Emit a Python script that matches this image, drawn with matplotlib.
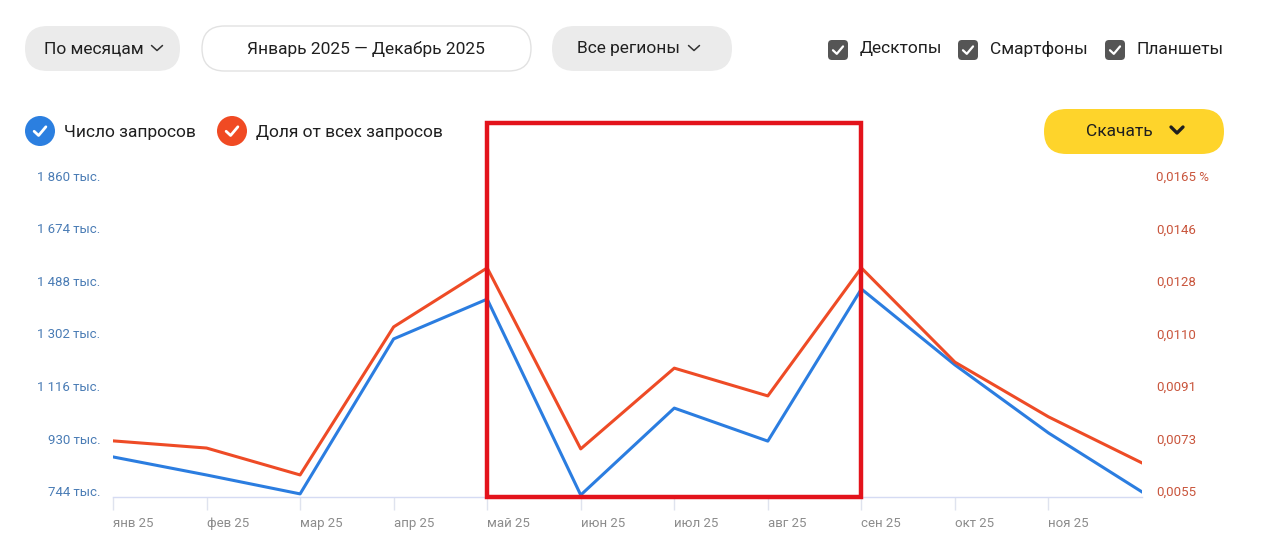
import numpy as np
import matplotlib
matplotlib.use('Agg')
import matplotlib.pyplot as plt
from matplotlib.patches import FancyBboxPatch, Circle, Rectangle
from matplotlib.lines import Line2D
from matplotlib.transforms import Affine2D, ScaledTranslation, blended_transform_factory

plt.rcParams['font.family'] = ['Roboto', 'DejaVu Sans']

# Data
months = ['янв 25', 'фев 25', 'мар 25', 'апр 25', 'май 25', 'июн 25',
          'июл 25', 'авг 25', 'сен 25', 'окт 25', 'ноя 25', 'дек 25']
queries = [886, 822, 755, 1304, 1445, 751, 1059, 942, 1481, 1212, 971, 762]  # тыс.
share = [0.00746, 0.00721, 0.00627, 0.01144, 0.0135, 0.00718,
         0.0100, 0.00903, 0.0135, 0.01021, 0.0083, 0.00669]  # %
left_ticks = [744, 930, 1116, 1302, 1488, 1674, 1860]
right_ticks = np.linspace(0.0055, 0.0165, 7)
right_labels = ['0,0055', '0,0073', '0,0091', '0,0110', '0,0128', '0,0146', '0,0165 %']
highlight = ('май 25', 'сен 25')

W, H = 1280, 558
fig = plt.figure(figsize=(W / 100, H / 100), dpi=100)
# screen pixel coords, y pointing down
px = Affine2D().scale(1 / W, -1 / H).translate(0, 1) + fig.transFigure

BLUE = '#2b7de0'
RED = '#ee4b26'

# ---- chart ----
ax = fig.add_axes([113 / W, 1 - 497 / H, 1029 / W, 315 / H])
x = np.arange(len(months))
ax.plot(x, queries, color=BLUE, lw=2.2)
ax2 = ax.twinx()
ax2.plot(x, share, color=RED, lw=2.2)

ax.set_xlim(0, 11)
ax.set_ylim(744, 1860)
ax2.set_ylim(0.0055, 0.0165)

for a in (ax, ax2):
    for s in a.spines.values():
        s.set_visible(False)
ax.spines['bottom'].set_visible(True)
ax.spines['bottom'].set_color('#d5dbf3')
ax.spines['bottom'].set_linewidth(1)

ax.set_xticks(x[:11])
ax.set_xticklabels(months[:11], color='#8c8c8c', fontsize=9.5, ha='left')
ax.tick_params(axis='x', length=9.5, width=1, color='#dfe3ee', pad=5)

up = ScaledTranslation(0, 0.06, fig.dpi_scale_trans)
ax.set_yticks(left_ticks)
ax.set_yticklabels([f'{v:,}'.replace(',', ' ') + ' тыс.' for v in left_ticks],
                   color='#4a7cb5', fontsize=9.5)
ax.tick_params(axis='y', length=0, pad=9)
ax2.set_yticks(right_ticks)
ax2.set_yticklabels(right_labels, color='#c9553c', fontsize=9.5)
ax2.tick_params(axis='y', length=0, pad=10)
for lab in ax.get_yticklabels() + ax2.get_yticklabels():
    lab.set_transform(lab.get_transform() + up)

# red highlight frame
i0, i1 = months.index(highlight[0]), months.index(highlight[1])
bt = blended_transform_factory(ax2.transData, ax2.transAxes)
ax2.add_artist(Rectangle((i0, 0), i1 - i0, 1 + 374 / 315 - 1, transform=bt,
                         fill=False, edgecolor='#e3131b', lw=3.2, clip_on=False, zorder=10))


# ---- UI controls ----
def pill(x0, y0, x1, y1, face, edge='none'):
    r = (y1 - y0) / 2
    fig.add_artist(FancyBboxPatch((x0, y0), x1 - x0, y1 - y0,
                                  boxstyle=f'round,pad=0,rounding_size={r}',
                                  transform=px, facecolor=face, edgecolor=edge, lw=1))


def chevron(cx, cy, w, h, lw, color='#333333'):
    fig.add_artist(Line2D([cx - w, cx, cx + w], [cy - h / 2, cy + h / 2, cy - h / 2],
                          transform=px, color=color, lw=lw,
                          solid_capstyle='round', solid_joinstyle='round'))


def check(cx, cy, s, lw=1.6, color='white'):
    fig.add_artist(Line2D([cx - 0.42 * s, cx - 0.1 * s, cx + 0.42 * s],
                          [cy + 0.02 * s, cy + 0.32 * s, cy - 0.3 * s],
                          transform=px, color=color, lw=lw,
                          solid_capstyle='round', solid_joinstyle='round'))


def label(xp, yp, s, size=12.5, ha='left', color='#1f1f1f'):
    fig.text(xp, yp, s, transform=px, fontsize=size, ha=ha, va='center', color=color)


pill(25, 26, 180, 71, '#ebebeb')
label(44, 49, 'По месяцам')
chevron(157, 48, 5.5, 5, 1.1)

pill(202, 26, 531, 71, 'white', '#e2e2e2')
label(366, 49, 'Январь 2025 — Декабрь 2025', ha='center')

pill(552, 26, 732, 71, '#ebebeb')
label(577, 49, 'Все регионы')
chevron(694, 48, 5.5, 5, 1.1)

for cbx, txt in [(828, 'Десктопы'), (958, 'Смартфоны'), (1105, 'Планшеты')]:
    fig.add_artist(FancyBboxPatch((cbx, 40), 20, 20, boxstyle='round,pad=0,rounding_size=4',
                                  transform=px, facecolor='#555555', edgecolor='none'))
    check(cbx + 10, 50, 12, lw=1.6)
    label(cbx + 32, 49, txt)

for cx, col, txt in [(40, '#2b7fe0', 'Число запросов'), (232, '#f04a23', 'Доля от всех запросов')]:
    fig.add_artist(Circle((cx, 131), 15, transform=px, facecolor=col, edgecolor='none'))
    check(cx, 131, 14, lw=2)
    label(cx + 24, 132, txt)

pill(1044, 109, 1224, 154, '#fed42b')
label(1086, 132, 'Скачать')
chevron(1177, 130, 6, 6, 2.4, '#1f1f1f')

fig.savefig('out.png', dpi=100)
